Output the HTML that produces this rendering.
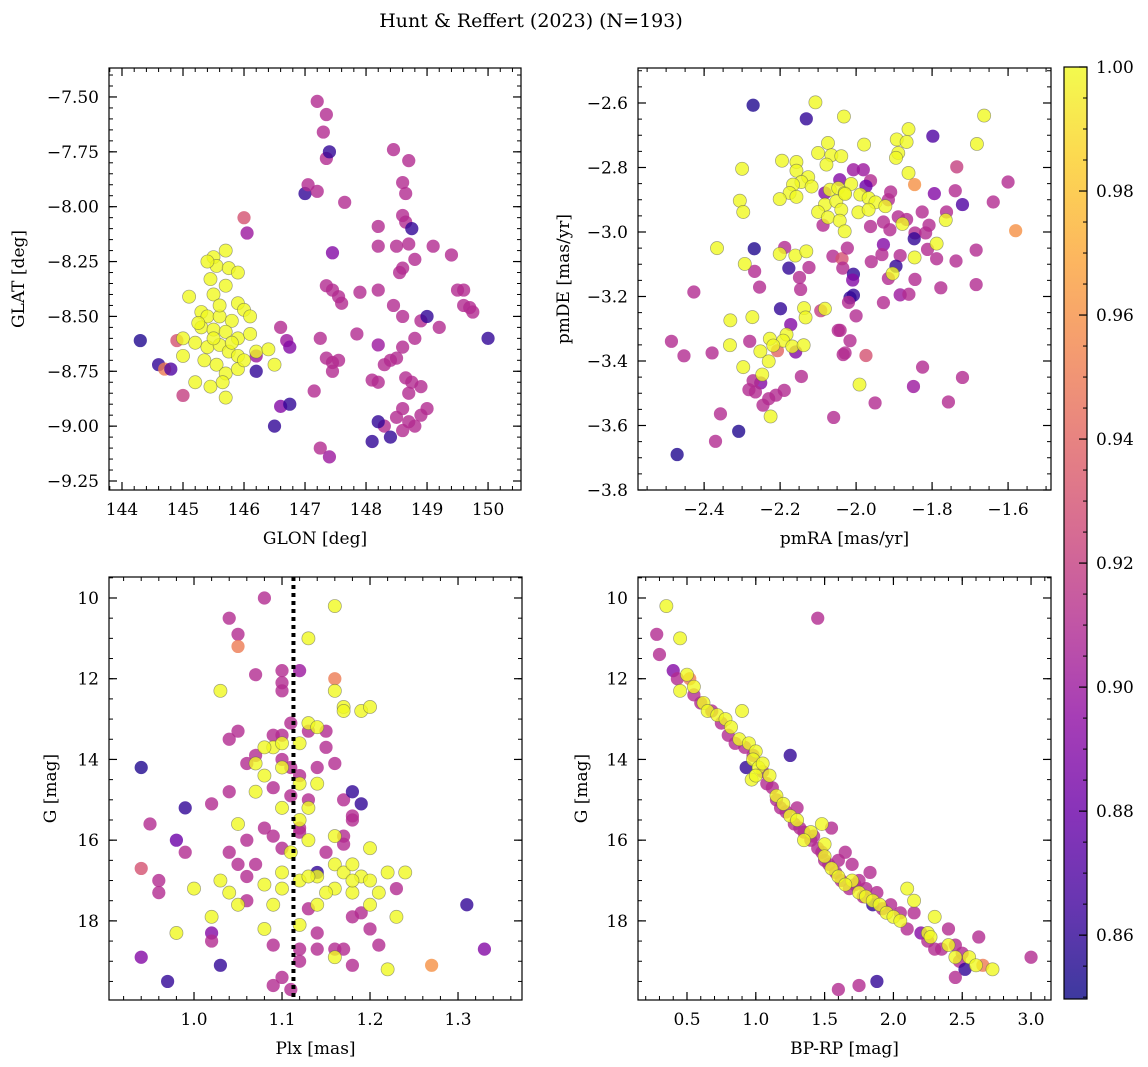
<!DOCTYPE html>
<html><head><meta charset="utf-8"><style>
html,body{margin:0;padding:0;background:#fff;}
svg{display:block;font-family:"DejaVu Serif","Liberation Serif",serif;}
</style></head><body>
<svg id="chart" width="1148" height="1067" xmlns="http://www.w3.org/2000/svg">
<text x="531" y="27" text-anchor="middle" font-size="19">Hunt &amp; Reffert (2023) (N=193)</text>
</svg>
<script>
// ---------- data ----------
const p1Yellow = [[145.7,-8.2],[145.5,-8.23],[145.55,-8.27],[145.75,-8.28],[145.9,-8.3],[145.4,-8.25],[145.1,-8.41],[145.5,-8.4],[145.7,-8.36],[145.9,-8.44],[146.0,-8.47],[145.3,-8.48],[145.4,-8.5],[145.6,-8.5],[145.8,-8.52],[146.1,-8.5],[145.3,-8.55],[145.5,-8.56],[145.7,-8.57],[145.9,-8.6],[146.1,-8.58],[145.0,-8.6],[145.2,-8.62],[145.4,-8.64],[145.6,-8.63],[145.75,-8.66],[145.9,-8.68],[146.2,-8.66],[145.0,-8.68],[145.35,-8.7],[145.55,-8.72],[145.7,-8.76],[145.9,-8.74],[146.4,-8.65],[146.5,-8.72],[145.2,-8.8],[145.45,-8.82],[145.65,-8.8],[145.7,-8.87],[145.5,-8.6],[145.6,-8.45],[145.45,-8.33],[145.8,-8.62],[145.25,-8.53],[146.0,-8.7]];
const p1Other = [[144.3,-8.61,0.855],[144.6,-8.72,0.86],[144.9,-8.61,0.93],[144.7,-8.74,0.95],[145.0,-8.86,0.92],[144.8,-8.74,0.87],[146.0,-8.05,0.93],[146.05,-8.12,0.9],[146.6,-8.55,0.91],[146.7,-8.61,0.9],[146.75,-8.64,0.89],[146.2,-8.75,0.86],[146.2,-8.68,0.9],[146.6,-8.91,0.89],[146.75,-8.9,0.86],[146.5,-9.0,0.86],[147.0,-7.94,0.86],[147.05,-7.9,0.91],[147.2,-7.93,0.91],[147.2,-7.52,0.91],[147.35,-7.58,0.91],[147.3,-7.66,0.91],[147.35,-7.78,0.91],[147.4,-7.75,0.86],[147.65,-7.98,0.91],[147.45,-8.21,0.89],[147.35,-8.36,0.91],[147.45,-8.38,0.91],[147.55,-8.41,0.91],[147.6,-8.44,0.91],[147.25,-8.6,0.91],[147.35,-8.69,0.91],[147.45,-8.71,0.91],[147.55,-8.7,0.91],[147.45,-8.75,0.91],[147.15,-8.84,0.91],[147.25,-9.1,0.91],[147.4,-9.14,0.9],[147.9,-8.39,0.91],[147.85,-8.58,0.91],[148.2,-8.18,0.91],[148.2,-8.09,0.91],[148.45,-7.74,0.91],[148.7,-7.79,0.91],[148.6,-7.89,0.91],[148.65,-7.94,0.91],[148.6,-8.04,0.91],[148.65,-8.07,0.91],[148.5,-8.18,0.91],[148.75,-8.1,0.86],[148.7,-8.17,0.91],[148.6,-8.28,0.91],[148.55,-8.3,0.91],[148.8,-8.24,0.91],[149.1,-8.18,0.91],[149.4,-8.22,0.91],[148.45,-8.45,0.91],[148.2,-8.38,0.91],[148.2,-8.63,0.9],[148.6,-8.5,0.91],[148.9,-8.52,0.91],[149.0,-8.5,0.86],[149.2,-8.55,0.91],[148.8,-8.6,0.91],[148.6,-8.64,0.91],[148.5,-8.69,0.91],[148.4,-8.7,0.91],[148.3,-8.72,0.91],[148.1,-8.79,0.91],[148.2,-8.8,0.91],[148.65,-8.78,0.91],[148.75,-8.8,0.91],[148.7,-8.85,0.91],[148.9,-8.82,0.91],[148.6,-8.92,0.91],[148.5,-8.96,0.91],[148.7,-8.98,0.91],[148.8,-9.0,0.91],[148.6,-9.02,0.91],[149.0,-8.92,0.91],[148.9,-8.95,0.91],[148.3,-9.0,0.91],[148.2,-8.98,0.86],[148.1,-9.07,0.86],[148.4,-9.05,0.86],[149.5,-8.38,0.91],[149.6,-8.38,0.91],[149.6,-8.45,0.91],[149.7,-8.46,0.91],[149.75,-8.48,0.91],[150.0,-8.6,0.86]];
const p2Yellow = [[-2.107,-2.598],[-2.032,-2.642],[-2.074,-2.724],[-2.1,-2.755],[-2.065,-2.762],[-2.039,-2.765],[-2.078,-2.791],[-2.195,-2.779],[-2.157,-2.783],[-2.157,-2.81],[-2.3,-2.804],[-2.126,-2.83],[-2.144,-2.845],[-2.117,-2.859],[-2.166,-2.853],[-2.175,-2.879],[-2.201,-2.898],[-2.157,-2.891],[-2.069,-2.869],[-2.047,-2.864],[-2.03,-2.879],[-2.082,-2.915],[-2.052,-2.905],[-2.039,-2.931],[-2.1,-2.938],[-2.074,-2.955],[-2.043,-2.965],[-2.03,-2.998],[-2.306,-2.903],[-2.297,-2.938],[-2.366,-3.05],[-2.201,-3.068],[-2.16,-3.073],[-2.131,-3.06],[-2.293,-3.099],[-2.137,-3.236],[-2.133,-3.265],[-2.082,-3.238],[-2.331,-3.274],[-2.273,-3.264],[-2.332,-3.351],[-2.227,-3.331],[-2.183,-3.318],[-2.192,-3.337],[-2.218,-3.352],[-2.168,-3.355],[-2.138,-3.351],[-2.252,-3.37],[-2.23,-3.401],[-2.297,-3.419],[-2.247,-3.442],[-2.225,-3.572],[-1.663,-2.639],[-1.862,-2.681],[-1.893,-2.713],[-1.867,-2.721],[-1.889,-2.755],[-1.895,-2.77],[-1.979,-2.729],[-1.682,-2.727],[-1.862,-2.817],[-2.013,-2.851],[-1.989,-2.884],[-1.967,-2.895],[-1.949,-2.908],[-1.994,-2.939],[-1.967,-2.931],[-2.029,-2.882],[-1.923,-2.92],[-1.764,-2.963],[-1.878,-2.975],[-1.788,-3.036],[-1.846,-3.079],[-1.904,-3.129],[-1.991,-3.473]];
const p2Other = [[-2.271,-2.607,0.855],[-2.131,-2.649,0.86],[-2.043,-2.838,0.89],[-2.082,-2.879,0.89],[-2.087,-2.979,0.91],[-2.268,-3.052,0.855],[-2.188,-3.048,0.91],[-2.061,-3.075,0.91],[-2.037,-3.083,0.93],[-2.035,-3.112,0.91],[-2.267,-3.122,0.91],[-2.177,-3.112,0.86],[-2.124,-3.11,0.91],[-2.149,-3.141,0.91],[-2.254,-3.171,0.91],[-2.146,-3.178,0.91],[-2.427,-3.186,0.91],[-2.199,-3.238,0.86],[-2.093,-3.244,0.92],[-2.172,-3.287,0.89],[-2.047,-3.305,0.91],[-2.486,-3.339,0.91],[-2.453,-3.384,0.91],[-2.379,-3.375,0.91],[-2.28,-3.339,0.91],[-2.207,-3.368,0.94],[-2.159,-3.372,0.89],[-2.034,-3.38,0.91],[-2.251,-3.468,0.89],[-2.271,-3.461,0.91],[-2.282,-3.489,0.91],[-2.265,-3.496,0.91],[-2.245,-3.537,0.91],[-2.23,-3.517,0.91],[-2.211,-3.506,0.91],[-2.189,-3.491,0.91],[-2.144,-3.448,0.91],[-2.059,-3.575,0.91],[-2.357,-3.564,0.91],[-2.37,-3.649,0.91],[-2.309,-3.618,0.855],[-2.471,-3.69,0.855],[-1.798,-2.703,0.87],[-1.735,-2.798,0.92],[-1.846,-2.853,0.96],[-1.6,-2.845,0.91],[-2.007,-2.807,0.9],[-1.981,-2.807,0.9],[-1.962,-2.841,0.91],[-1.974,-2.858,0.88],[-1.739,-2.872,0.91],[-1.794,-2.881,0.89],[-1.72,-2.915,0.87],[-1.639,-2.907,0.91],[-1.909,-2.876,0.91],[-1.915,-2.9,0.91],[-1.826,-2.938,0.91],[-1.762,-2.938,0.91],[-1.962,-2.983,0.91],[-1.928,-2.969,0.91],[-1.911,-2.993,0.91],[-1.889,-2.953,0.91],[-1.867,-2.961,0.91],[-1.845,-3.003,0.91],[-1.808,-2.979,0.91],[-1.817,-3.003,0.91],[-1.847,-3.021,0.86],[-1.58,-2.996,0.96],[-2.023,-3.05,0.91],[-1.928,-3.039,0.89],[-1.932,-3.07,0.91],[-1.96,-3.092,0.91],[-1.884,-3.073,0.91],[-1.812,-3.054,0.91],[-1.788,-3.083,0.91],[-1.737,-3.09,0.91],[-1.684,-3.056,0.91],[-1.684,-3.163,0.91],[-1.895,-3.106,0.86],[-2.007,-3.131,0.86],[-2.009,-3.149,0.89],[-2.007,-3.196,0.86],[-2.016,-3.204,0.86],[-1.915,-3.144,0.91],[-1.845,-3.147,0.91],[-1.777,-3.173,0.91],[-1.884,-3.195,0.9],[-1.861,-3.193,0.91],[-1.928,-3.219,0.91],[-2.02,-3.218,0.91],[-2.0,-3.26,0.91],[-2.042,-3.305,0.91],[-2.016,-3.337,0.91],[-2.029,-3.375,0.91],[-1.974,-3.383,0.93],[-1.825,-3.419,0.91],[-1.849,-3.479,0.9],[-1.72,-3.451,0.91],[-1.95,-3.53,0.91],[-1.757,-3.527,0.91]];
const p3Yellow = [[1.16,10.2],[1.13,11.0],[1.03,12.3],[1.16,12.3],[1.17,12.7],[1.17,12.8],[1.19,12.8],[1.2,12.7],[1.13,13.1],[1.09,13.7],[1.08,13.7],[1.1,13.6],[1.12,13.6],[1.14,13.2],[1.07,14.1],[1.08,14.4],[1.1,14.2],[1.12,14.6],[1.14,14.6],[1.07,14.8],[1.13,15.2],[1.12,15.5],[1.05,15.6],[1.1,15.2],[1.16,15.9],[1.13,16.0],[1.11,16.3],[1.16,16.6],[1.17,16.8],[1.18,16.6],[1.19,16.9],[1.2,17.0],[1.2,16.2],[1.22,16.8],[1.24,16.8],[1.14,16.9],[1.12,17.0],[1.1,17.2],[1.08,17.1],[1.03,17.0],[1.04,17.3],[1.05,17.6],[1.09,17.6],[1.08,18.2],[1.02,17.9],[1.0,17.2],[0.98,18.3],[1.14,17.6],[1.16,17.2],[1.18,17.3],[1.21,17.3],[1.23,17.9],[1.2,17.6],[1.15,17.3],[1.16,18.9],[1.22,19.2],[1.12,18.1],[1.1,16.8],[1.13,16.9],[1.18,17.0]];
const p3Other = [[1.08,10.0,0.91],[1.04,10.5,0.91],[1.05,10.9,0.91],[1.05,11.2,0.95],[1.07,11.9,0.91],[1.1,11.8,0.91],[1.12,11.8,0.9],[1.1,12.1,0.91],[1.1,12.3,0.91],[1.16,12.0,0.95],[1.09,13.4,0.91],[1.1,13.4,0.91],[1.11,13.1,0.91],[1.13,13.3,0.91],[1.15,13.3,0.91],[1.05,13.3,0.91],[1.04,13.5,0.91],[1.1,14.0,0.91],[1.11,14.2,0.91],[1.12,14.4,0.91],[1.14,14.2,0.91],[1.16,14.1,0.91],[1.07,13.9,0.91],[1.06,14.1,0.91],[1.09,14.7,0.91],[1.11,14.9,0.91],[1.13,15.0,0.91],[1.12,15.7,0.91],[1.17,15.0,0.91],[1.18,15.4,0.91],[1.18,14.8,0.86],[1.19,15.1,0.86],[1.08,15.7,0.91],[1.09,15.9,0.91],[1.1,16.2,0.91],[1.06,16.0,0.91],[1.04,16.3,0.91],[1.05,16.6,0.91],[1.02,15.1,0.91],[1.04,14.8,0.91],[0.99,15.2,0.86],[0.98,16.0,0.88],[0.99,16.3,0.91],[0.94,14.2,0.855],[0.95,15.6,0.91],[0.94,16.7,0.93],[0.96,17.0,0.91],[0.96,17.3,0.91],[0.94,18.9,0.89],[0.97,19.5,0.86],[1.02,18.3,0.89],[1.03,19.1,0.86],[1.02,18.5,0.91],[1.06,17.5,0.91],[1.07,16.6,0.91],[1.09,18.6,0.91],[1.1,19.4,0.91],[1.09,19.6,0.91],[1.11,19.7,0.91],[1.12,18.7,0.91],[1.12,19.0,0.91],[1.13,17.7,0.91],[1.14,16.8,0.86],[1.14,18.3,0.91],[1.15,16.3,0.91],[1.17,15.9,0.91],[1.17,16.1,0.91],[1.18,15.5,0.91],[1.18,17.9,0.91],[1.19,17.8,0.91],[1.17,18.7,0.91],[1.16,18.7,0.91],[1.14,18.7,0.91],[1.18,19.1,0.91],[1.2,18.2,0.91],[1.21,18.6,0.91],[1.23,17.2,0.91],[1.27,19.1,0.96],[1.31,17.6,0.86],[1.33,18.7,0.89],[1.12,15.8,0.91],[1.15,13.7,0.91],[1.06,16.9,0.91]];
const p4Yellow = [[0.35,10.2],[0.45,11.0],[0.5,11.9],[0.45,12.3],[0.55,12.2],[0.62,12.6],[0.65,12.8],[0.72,12.9],[0.78,13.0],[0.82,13.2],[0.9,12.8],[0.88,13.5],[0.95,13.6],[1.0,13.8],[0.98,14.0],[1.02,14.2],[1.05,14.1],[0.97,14.5],[1.1,14.4],[1.15,14.9],[1.2,15.1],[1.25,15.4],[1.3,15.5],[1.4,15.8],[1.48,15.6],[1.5,16.1],[1.5,16.4],[1.55,16.7],[1.6,16.9],[1.7,17.0],[1.75,17.3],[1.8,17.4],[1.85,17.5],[1.9,17.6],[1.95,17.8],[2.0,17.9],[2.05,18.0],[2.1,17.2],[2.15,17.5],[2.25,18.3],[2.27,18.4],[2.3,17.9],[2.4,18.6],[2.45,18.9],[2.55,18.9],[2.6,19.1],[2.72,19.2],[1.35,16.0],[1.65,17.1],[1.0,14.4]];
const p4Other = [[0.28,10.9,0.91],[0.3,11.4,0.91],[0.4,11.8,0.89],[0.43,12.0,0.91],[0.52,12.0,0.95],[0.55,12.4,0.91],[0.6,12.6,0.91],[0.68,12.8,0.91],[0.75,13.1,0.91],[0.8,13.4,0.91],[0.85,13.6,0.91],[0.92,13.7,0.91],[0.98,13.9,0.91],[1.05,14.3,0.91],[0.93,14.2,0.86],[1.08,14.6,0.91],[1.12,14.7,0.91],[1.15,15.0,0.91],[1.18,15.2,0.91],[1.22,15.3,0.91],[1.25,13.9,0.86],[1.28,15.6,0.91],[1.32,15.7,0.91],[1.35,15.8,0.91],[1.4,16.0,0.91],[1.42,15.9,0.91],[1.45,16.2,0.91],[1.48,16.3,0.91],[1.5,16.5,0.91],[1.53,16.6,0.91],[1.55,15.7,0.91],[1.58,16.8,0.91],[1.62,17.0,0.91],[1.65,16.3,0.91],[1.68,17.2,0.91],[1.7,16.6,0.91],[1.72,17.1,0.91],[1.75,17.0,0.91],[1.78,17.4,0.91],[1.8,17.2,0.91],[1.83,16.8,0.91],[1.85,17.6,0.86],[1.88,17.3,0.91],[1.92,17.7,0.91],[1.98,17.6,0.91],[2.05,17.8,0.91],[2.1,18.2,0.91],[2.15,17.8,0.91],[2.2,18.3,0.89],[2.25,18.5,0.91],[2.3,18.7,0.91],[2.35,18.7,0.91],[2.4,18.2,0.91],[2.45,18.6,0.91],[2.5,18.8,0.91],[2.48,19.0,0.91],[2.52,19.2,0.86],[2.45,19.4,0.91],[2.62,18.4,0.91],[2.65,19.1,0.95],[3.0,18.9,0.91],[1.45,10.5,0.91],[1.6,19.7,0.91],[1.75,19.6,0.91],[1.88,19.5,0.86],[1.3,15.2,0.91],[1.6,16.5,0.91]];
const plxMedian = [1.113];
const cbarTicks = [0.86,0.88,0.90,0.92,0.94,0.96,0.98,1.00];
const p1XTicks = [144,145,146,147,148,149,150];
const p1YTicks = [-7.5,-7.75,-8.0,-8.25,-8.5,-8.75,-9.0,-9.25];
const p2XTicks = [-2.4,-2.2,-2.0,-1.8,-1.6];
const p2YTicks = [-2.6,-2.8,-3.0,-3.2,-3.4,-3.6,-3.8];
const p3XTicks = [1.0,1.1,1.2,1.3];
const gYTicks = [10,12,14,16,18];
const p4XTicks = [0.5,1.0,1.5,2.0,2.5,3.0];

// ---------- helpers ----------
const NS='http://www.w3.org/2000/svg';
const svg=document.getElementById('chart');
function mk(tag,attrs,parent){const e=document.createElementNS(NS,tag);for(const k in attrs)e.setAttribute(k,attrs[k]);(parent||svg).appendChild(e);return e;}
const CMIN=0.8497,CMAX=1.0;
const stops=['#0d0887','#41049d','#6a00a8','#8f0da4','#b12a90','#cc4778','#e16462','#f2844b','#fca636','#fcce25','#f0f921'];
function hex(h){return [1,3,5].map(i=>parseInt(h.substr(i,2),16));}
function plasma(v){let t=(v-CMIN)/(CMAX-CMIN);t=Math.max(0,Math.min(1,t));const s=t*10,i=Math.min(9,Math.floor(s)),f=s-i;const a=hex(stops[i]),b=hex(stops[i+1]);return 'rgb('+a.map((x,k)=>Math.round(x+(b[k]-x)*f)).join(',')+')';}
function fmt(v,d){return v.toFixed(d).replace('-','\u2212');}

function panel(cfg){
  const g=mk('g',{});
  
  
  const {x0,x1,y0,y1,xmin,xmax,ymin,ymax}=cfg;
  const sx=v=>x0+(v-xmin)/(xmax-xmin)*(x1-x0);
  const sy=v=>y0+(v-ymin)/(ymax-ymin)*(y1-y0);
  const clip='clip-'+cfg.name;
  const cp=mk('clipPath',{id:clip},g);mk('rect',{x:x0,y:y0,width:x1-x0,height:y1-y0},cp);
  const pts=mk('g',{'clip-path':'url(#'+clip+')'},g);
  cfg.other.forEach(d=>{
    const c=mk('circle',{cx:sx(d[0]),cy:sy(d[1]),r:6.6,fill:plasma(d[2]),'fill-opacity':0.8},pts);
    
    
  });
  cfg.yellow.forEach(d=>{
    const c=mk('circle',{cx:sx(d[0]),cy:sy(d[1]),r:6.6,fill:plasma(1.0),'fill-opacity':0.8,stroke:'#555','stroke-opacity':0.55,'stroke-width':0.7},pts);
    
    
  });
  if(cfg.vline){cfg.vline.forEach(v=>{const l=mk('line',{x1:sx(v),x2:sx(v),y1:y0,y2:y1,stroke:'#000','stroke-width':4,'stroke-dasharray':'4,4'},pts);});}
  const fr=mk('rect',{x:x0,y:y0,width:x1-x0,height:y1-y0,fill:'none',stroke:'#000','stroke-width':1.2},g);
  
  const lo=Math.min(xmin,xmax),hi=Math.max(xmin,xmax);
  for(let v=Math.ceil(lo/cfg.xminor)*cfg.xminor;v<=hi+1e-9;v+=cfg.xminor){const X=sx(v);mk('line',{x1:X,x2:X,y1:y1,y2:y1-4,stroke:'#000'},g);mk('line',{x1:X,x2:X,y1:y0,y2:y0+4,stroke:'#000'},g);}
  const ylo=Math.min(ymin,ymax),yhi=Math.max(ymin,ymax);
  for(let v=Math.ceil(ylo/cfg.yminor)*cfg.yminor;v<=yhi+1e-9;v+=cfg.yminor){const Y=sy(v);mk('line',{x1:x0,x2:x0+4,y1:Y,y2:Y,stroke:'#000'},g);mk('line',{x1:x1,x2:x1-4,y1:Y,y2:Y,stroke:'#000'},g);}
  cfg.xticks.forEach(v=>{const X=sx(v);mk('line',{x1:X,x2:X,y1:y1,y2:y1-8,stroke:'#000','stroke-width':1.2},g);mk('line',{x1:X,x2:X,y1:y0,y2:y0+8,stroke:'#000','stroke-width':1.2},g);
    const t=mk('text',{x:X,y:y1+25,'text-anchor':'middle','font-size':17},g);t.textContent=fmt(v,cfg.xd);});
  cfg.yticks.forEach(v=>{const Y=sy(v);mk('line',{x1:x0,x2:x0+8,y1:Y,y2:Y,stroke:'#000','stroke-width':1.2},g);mk('line',{x1:x1,x2:x1-8,y1:Y,y2:Y,stroke:'#000','stroke-width':1.2},g);
    const t=mk('text',{x:x0-10,y:Y+6,'text-anchor':'end','font-size':17},g);t.textContent=fmt(v,cfg.yd);});
  const xt=mk('text',{x:(x0+x1)/2,y:y1+54,'text-anchor':'middle','font-size':17},g);xt.textContent=cfg.xlabel;
  
  const cy=(y0+y1)/2;
  const yt=mk('text',{x:cfg.ylx,y:cy,'text-anchor':'middle','font-size':17,transform:'rotate(-90 '+cfg.ylx+' '+cy+')'},g);yt.textContent=cfg.ylabel;
  
}

panel({name:'glon-glat-panel',x0:109,x1:521,y0:68,y1:490,xmin:143.787,xmax:150.54,ymin:-7.368,ymax:-9.291,xticks:p1XTicks,yticks:p1YTicks,xd:0,yd:2,xminor:0.2,yminor:0.05,xlabel:'GLON [deg]',ylabel:'GLAT [deg]',ylx:24,yellow:p1Yellow,other:p1Other});
panel({name:'proper-motion-panel',x0:638,x1:1051,y0:68,y1:490,xmin:-2.574,xmax:-1.487,ymin:-2.4915,ymax:-3.8,xticks:p2XTicks,yticks:p2YTicks,xd:1,yd:1,xminor:0.05,yminor:0.05,xlabel:'pmRA [mas/yr]',ylabel:'pmDE [mas/yr]',ylx:569,yellow:p2Yellow,other:p2Other});
panel({name:'parallax-mag-panel',x0:109,x1:522,y0:577,y1:1000,xmin:0.9034,xmax:1.3727,ymin:9.48,ymax:19.96,xticks:p3XTicks,yticks:gYTicks,xd:1,yd:0,xminor:0.02,yminor:0.5,xlabel:'Plx [mas]',ylabel:'G [mag]',ylx:56,yellow:p3Yellow,other:p3Other,vline:plxMedian});
panel({name:'cmd-panel',x0:638,x1:1051,y0:577,y1:1000,xmin:0.144,xmax:3.145,ymin:9.48,ymax:19.96,xticks:p4XTicks,yticks:gYTicks,xd:1,yd:0,xminor:0.1,yminor:0.5,xlabel:'BP-RP [mag]',ylabel:'G [mag]',ylx:587,yellow:p4Yellow,other:p4Other});

// colorbar
(function(){
  const g=mk('g',{});
  const cx0=1064,cx1=1087,cy0=67,cy1=999;
  const defs=mk('defs',{},g);const lg=mk('linearGradient',{id:'cbg',x1:0,y1:1,x2:0,y2:0},defs);
  stops.forEach((c,i)=>mk('stop',{offset:(i/10),'stop-color':c},lg));
  mk('rect',{x:cx0,y:cy0,width:cx1-cx0,height:cy1-cy0,fill:'url(#cbg)','fill-opacity':0.8},g);
  mk('rect',{x:cx0,y:cy0,width:cx1-cx0,height:cy1-cy0,fill:'none',stroke:'#000','stroke-width':1.2},g);
  const sy=v=>cy1-(v-CMIN)/(CMAX-CMIN)*(cy1-cy0);
  for(let v=0.85;v<=1.0001;v+=0.005){const Y=sy(v);if(Y<cy0-0.5||Y>cy1)continue;mk('line',{x1:cx1,x2:cx1-4,y1:Y,y2:Y,stroke:'#000'},g);}
  cbarTicks.forEach(v=>{const Y=sy(v);mk('line',{x1:cx1,x2:cx1-8,y1:Y,y2:Y,stroke:'#000','stroke-width':1.2},g);
    const t=mk('text',{x:cx1+9,y:Y+6,'font-size':17},g);t.textContent=v.toFixed(2);});
})();
</script>
</body></html>
